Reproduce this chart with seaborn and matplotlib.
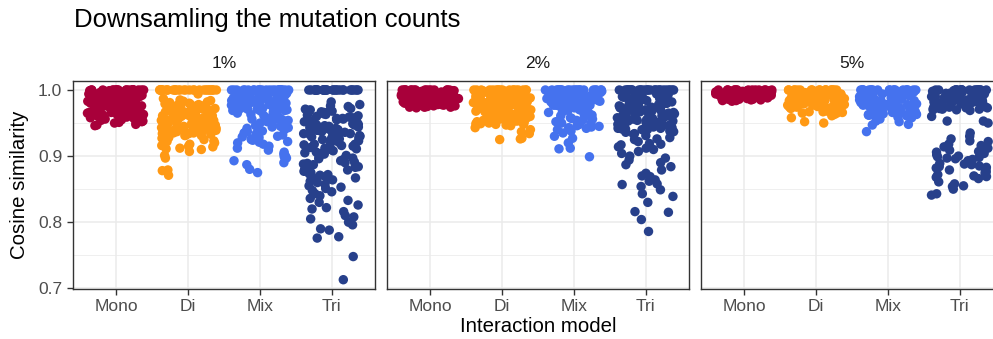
import numpy as np
import pandas as pd
import matplotlib
matplotlib.use("Agg")
import matplotlib.pyplot as plt
import seaborn as sns

# ---------------- data ----------------
models = ["Mono", "Di", "Mix", "Tri"]
facets = ["1%", "2%", "5%"]
colors = ["#A8003A", "#FF9914", "#4572EE", "#27408B"]

mono_1 = [1.000, 1.000, 1.000, 1.000, 1.000, 1.000, 1.000, 1.000, 1.000, 1.000, 1.000, 1.000,
          0.999, 0.998, 0.997, 0.997, 0.996, 0.995, 0.994, 0.994, 0.993, 0.992, 0.991, 0.990,
          0.990, 0.989, 0.988, 0.987, 0.987, 0.986, 0.985, 0.984, 0.983, 0.983, 0.982, 0.981,
          0.980, 0.980, 0.979, 0.978, 0.977, 0.976, 0.976, 0.975, 0.974, 0.973, 0.972, 0.972,
          0.971, 0.970, 0.969, 0.968, 0.968, 0.967, 0.966, 0.965, 0.964, 0.963, 0.962, 0.961,
          0.960, 0.959, 0.958, 0.956, 0.955, 0.954, 0.953, 0.952, 0.951, 0.950, 0.948, 0.946,
          0.998, 0.995, 0.992, 0.989, 0.986, 0.983, 0.979, 0.976, 0.973, 0.970, 0.967, 0.964,
          1.000, 1.000, 1.000, 1.000, 1.000, 1.000, 1.000, 1.000, 0.999, 0.998, 0.997, 0.996,
          0.995, 0.994, 0.993, 0.992, 0.991, 0.990, 0.989, 0.988, 0.987, 0.986, 0.985, 0.984,
          0.983, 0.982, 0.981, 0.980, 0.979, 0.978, 0.977, 0.976, 0.975, 0.974, 0.973, 0.972,
          0.971, 0.970, 0.969, 0.968, 0.967, 0.966, 0.965, 0.964, 0.963, 0.962, 0.961, 0.960,
          0.996, 0.991, 0.986, 0.981, 0.975, 0.969, 0.963, 0.957, 0.951, 0.947]
di_1 = [1.000, 1.000, 1.000, 1.000, 1.000, 1.000, 1.000, 1.000, 1.000, 1.000, 1.000, 1.000,
        1.000, 1.000, 1.000, 1.000, 1.000, 1.000, 1.000, 1.000, 1.000, 1.000, 1.000, 1.000,
        1.000, 1.000, 1.000, 1.000, 1.000, 1.000, 1.000, 1.000,
        0.994, 0.987, 0.985, 0.983, 0.981, 0.980, 0.979, 0.977, 0.976, 0.975, 0.974, 0.972,
        0.971, 0.970, 0.969, 0.968, 0.967, 0.966, 0.965, 0.964, 0.963, 0.962, 0.961, 0.960,
        0.959, 0.958, 0.957, 0.956, 0.955, 0.954, 0.953, 0.952, 0.951, 0.950, 0.949, 0.948,
        0.947, 0.946, 0.945, 0.944, 0.943, 0.942, 0.941, 0.940, 0.939, 0.938, 0.937, 0.936,
        0.935, 0.934, 0.933, 0.932, 0.931, 0.930, 0.978, 0.973, 0.968, 0.963, 0.958, 0.954,
        0.949, 0.944, 0.939, 0.934, 0.966, 0.957, 0.947, 0.942,
        0.984, 0.982, 0.979, 0.976, 0.974, 0.971, 0.969, 0.966, 0.964, 0.961, 0.959, 0.956,
        0.954, 0.951, 0.949, 0.946, 0.944, 0.941, 0.939, 0.936, 0.934, 0.931, 0.975, 0.970,
        0.965, 0.960, 0.955, 0.950, 0.945, 0.940, 0.935, 0.972, 0.962, 0.952, 0.943, 0.938,
        0.928, 0.925, 0.922, 0.920, 0.918, 0.916, 0.914, 0.912, 0.910, 0.907, 0.901, 0.897,
        0.879, 0.871, 0.878, 0.927, 0.923, 0.919, 0.915, 0.911]
mix_1 = [1.000, 1.000, 1.000, 1.000, 1.000, 1.000, 1.000, 1.000, 1.000, 1.000, 1.000, 1.000,
         1.000, 1.000, 1.000, 1.000, 1.000, 1.000, 1.000, 1.000, 1.000, 1.000, 1.000, 1.000,
         0.998, 0.997, 0.996, 0.995, 0.994, 0.993, 0.992, 0.991,
         0.990, 0.989, 0.988, 0.987, 0.986, 0.985, 0.984, 0.983, 0.982, 0.981, 0.980, 0.979,
         0.978, 0.977, 0.976, 0.975, 0.974, 0.973, 0.972, 0.971, 0.970, 0.969, 0.968, 0.967,
         0.966, 0.965, 0.993, 0.987, 0.982, 0.977, 0.972, 0.967,
         0.999, 0.997, 0.995, 0.993, 0.991, 0.989, 0.987, 0.985, 0.983, 0.981, 0.979, 0.977,
         0.975, 0.973, 0.971, 0.969, 0.996, 0.990, 0.984, 0.978, 0.974, 0.970,
         0.963, 0.960, 0.958, 0.956, 0.954, 0.952, 0.950, 0.948, 0.946, 0.944, 0.942, 0.940,
         0.938, 0.936, 0.934, 0.932, 0.930, 0.928, 0.926, 0.924, 0.922, 0.920, 0.955, 0.945,
         0.935, 0.925, 0.961, 0.957, 0.951, 0.943, 0.937, 0.929, 0.921,
         0.918, 0.915, 0.912, 0.909, 0.906, 0.903, 0.900, 0.899, 0.897, 0.893,
         0.890, 0.887, 0.880, 0.875]
tri_1 = [1.000, 1.000, 1.000, 1.000, 1.000, 1.000, 1.000, 1.000, 1.000, 1.000, 1.000, 1.000,
         1.000, 1.000, 1.000, 1.000, 1.000, 1.000, 1.000, 1.000, 1.000, 1.000, 1.000, 1.000,
         1.000, 1.000, 1.000, 1.000, 1.000, 1.000,
         0.982, 0.978, 0.975, 0.972, 0.970, 0.968, 0.966, 0.965, 0.963, 0.962, 0.960, 0.959,
         0.957, 0.956, 0.955, 0.953, 0.952, 0.951, 0.950, 0.948, 0.947, 0.946, 0.945, 0.944,
         0.942, 0.941, 0.940, 0.939, 0.938, 0.936, 0.935, 0.934, 0.933, 0.931, 0.930, 0.929,
         0.927, 0.926, 0.925, 0.923, 0.922, 0.920, 0.918, 0.917, 0.915, 0.913, 0.912, 0.910,
         0.976, 0.971, 0.967, 0.964, 0.961, 0.958, 0.955, 0.952, 0.949, 0.946, 0.943, 0.940,
         0.937, 0.934, 0.931, 0.928, 0.925, 0.921, 0.916, 0.911, 0.969, 0.957, 0.948, 0.939,
         0.908, 0.906, 0.905, 0.903, 0.901, 0.899, 0.897, 0.895, 0.893, 0.891, 0.889, 0.887,
         0.885, 0.883, 0.881, 0.879, 0.877, 0.875, 0.873, 0.871, 0.869, 0.867, 0.865, 0.862,
         0.896, 0.888, 0.880, 0.872, 0.864,
         0.860, 0.857, 0.855, 0.853, 0.851, 0.848, 0.846, 0.843, 0.840, 0.836, 0.833, 0.830,
         0.826, 0.822, 0.820, 0.816, 0.810, 0.808, 0.805, 0.800, 0.796, 0.790, 0.788, 0.778,
         0.776, 0.748, 0.713, 0.958, 0.945, 0.932, 0.918, 0.904, 0.890, 0.884, 0.869]

mono_2 = [1.000, 1.000, 1.000, 1.000, 1.000, 1.000, 1.000, 1.000, 1.000, 1.000, 0.999, 0.998,
          0.997, 0.996, 0.995, 0.995, 0.994, 0.993, 0.992, 0.991, 0.990, 0.990, 0.989, 0.988,
          0.987, 0.986, 0.985, 0.985, 0.984, 0.983, 0.982, 0.981, 0.980, 0.980, 0.979, 0.978,
          0.977, 0.976, 0.975, 0.974, 0.973, 0.996, 0.992, 0.988, 0.984, 0.980, 0.976, 0.998,
          0.994, 0.990, 0.986, 0.982, 0.978, 0.975, 0.974, 0.993, 0.987, 0.981,
          1.000, 1.000, 1.000, 1.000, 1.000, 1.000, 0.999, 0.997, 0.995, 0.993, 0.991, 0.989,
          0.987, 0.985, 0.983, 0.981, 0.979, 0.977, 0.975, 0.997, 0.992, 0.987, 0.982, 0.977,
          0.994, 0.988, 0.983, 0.978, 0.974, 0.999, 0.996, 0.989, 0.984, 0.979, 0.976]
di_2 = [1.000, 1.000, 1.000, 1.000, 1.000, 1.000, 1.000, 1.000, 1.000, 1.000, 1.000, 1.000,
        0.999, 0.998, 0.997, 0.996, 0.995, 0.994, 0.993, 0.992, 0.991, 0.990, 0.989, 0.988,
        0.987, 0.986, 0.985, 0.984, 0.983, 0.982, 0.981, 0.980, 0.979, 0.978, 0.977, 0.976,
        0.975, 0.974, 0.973, 0.972, 0.971, 0.970, 0.969, 0.968, 0.967, 0.966, 0.965, 0.964,
        0.963, 0.962, 0.961, 0.960, 0.959, 0.958, 0.957, 0.956, 0.955, 0.954, 0.953, 0.952,
        0.951, 0.950, 0.949, 0.948, 0.947, 0.946, 0.995, 0.989, 0.983, 0.977, 0.971, 0.965,
        0.959, 0.953, 0.948, 0.993, 0.986, 0.979, 0.972, 0.962, 0.956, 0.951,
        1.000, 1.000, 1.000, 1.000, 1.000, 1.000, 0.998, 0.996, 0.994, 0.992, 0.990, 0.988,
        0.986, 0.984, 0.982, 0.980, 0.978, 0.976, 0.974, 0.972, 0.970, 0.968, 0.966, 0.964,
        0.962, 0.960, 0.958, 0.956, 0.954, 0.952, 0.950, 0.948, 0.991, 0.981, 0.971, 0.961,
        0.955, 0.949, 0.997, 0.987, 0.977, 0.967, 0.957,
        0.943, 0.940, 0.937, 0.934, 0.926, 0.925, 0.927]
mix_2 = [1.000, 1.000, 1.000, 1.000, 1.000, 1.000, 1.000, 1.000, 1.000, 1.000, 1.000, 1.000,
         1.000, 1.000, 0.999, 0.998, 0.997, 0.996, 0.995, 0.994, 0.993, 0.992, 0.991, 0.990,
         0.989, 0.988, 0.987, 0.986, 0.985, 0.984, 0.983, 0.982, 0.981, 0.980, 0.979, 0.978,
         0.977, 0.976, 0.975, 0.996, 0.991, 0.986, 0.981, 0.977,
         1.000, 1.000, 1.000, 1.000, 1.000, 1.000, 1.000, 1.000, 0.999, 0.997, 0.995, 0.993,
         0.991, 0.989, 0.987, 0.985, 0.983, 0.981, 0.979, 0.977, 0.998, 0.994, 0.990, 0.986,
         0.982, 0.978, 0.976, 0.996, 0.992, 0.988, 0.984, 0.980,
         0.972, 0.970, 0.968, 0.966, 0.964, 0.962, 0.960, 0.958, 0.956, 0.954, 0.952, 0.950,
         0.948, 0.946, 0.944, 0.942, 0.940, 0.969, 0.963, 0.957, 0.951, 0.945, 0.938, 0.935,
         0.973, 0.967, 0.961, 0.955, 0.949, 0.943,
         0.930, 0.927, 0.920, 0.912, 0.911, 0.899]
tri_2 = [1.000, 1.000, 1.000, 1.000, 1.000, 1.000, 1.000, 1.000, 1.000, 1.000, 1.000, 1.000,
         1.000, 1.000, 1.000, 1.000, 1.000, 1.000, 1.000, 1.000, 1.000, 1.000, 1.000, 1.000,
         1.000, 1.000, 1.000, 1.000,
         0.994, 0.992, 0.990, 0.988, 0.987, 0.985, 0.984, 0.982, 0.981, 0.980, 0.978, 0.977,
         0.976, 0.974, 0.973, 0.972, 0.970, 0.969, 0.968, 0.966, 0.965, 0.964, 0.962, 0.961,
         0.960, 0.958, 0.957, 0.956, 0.954, 0.953, 0.952, 0.950, 0.949, 0.948, 0.946, 0.945,
         0.944, 0.942, 0.941, 0.940, 0.991, 0.983, 0.975, 0.967, 0.959, 0.951, 0.943, 0.986,
         0.979, 0.971, 0.963, 0.955, 0.947,
         0.995, 0.993, 0.991, 0.989, 0.986, 0.984, 0.982, 0.980, 0.978, 0.976, 0.974, 0.972,
         0.970, 0.968, 0.966, 0.964, 0.962, 0.960, 0.958, 0.956, 0.954, 0.952, 0.950, 0.948,
         0.946, 0.944, 0.942, 0.940, 0.938, 0.936, 0.989, 0.977, 0.965, 0.953, 0.941,
         0.937, 0.934, 0.931, 0.928, 0.925, 0.922, 0.919, 0.917, 0.914, 0.910, 0.907, 0.904,
         0.933, 0.926, 0.918, 0.912,
         0.900, 0.897, 0.894, 0.890, 0.887, 0.884, 0.879, 0.874, 0.870, 0.869, 0.864, 0.862,
         0.858, 0.857, 0.854, 0.849, 0.843, 0.839, 0.830, 0.816, 0.815, 0.804, 0.786]

mono_5 = [1.000, 1.000, 1.000, 1.000, 1.000, 1.000, 1.000, 1.000, 0.999, 0.998, 0.998, 0.997,
          0.996, 0.996, 0.995, 0.994, 0.994, 0.993, 0.992, 0.992, 0.991, 0.990, 0.990, 0.989,
          0.988, 0.988, 0.987, 0.986, 0.986, 0.985, 0.984, 0.997, 0.995, 0.993, 0.991, 0.989,
          0.987, 0.985, 0.999, 0.996, 0.993, 0.990, 0.987, 0.984, 0.983,
          1.000, 1.000, 1.000, 1.000, 1.000, 1.000, 0.999, 0.998, 0.997, 0.996, 0.995, 0.994,
          0.993, 0.992, 0.991, 0.990, 0.989, 0.988, 0.987, 0.986, 0.985, 0.998, 0.995, 0.992,
          0.989, 0.986]
di_5 = [1.000, 1.000, 1.000, 1.000, 1.000, 1.000, 1.000, 1.000, 1.000, 1.000, 0.999, 0.998,
        0.997, 0.996, 0.995, 0.994, 0.993, 0.992, 0.991, 0.990, 0.989, 0.988, 0.987, 0.986,
        0.985, 0.984, 0.983, 0.982, 0.981, 0.980, 0.979, 0.978, 0.977, 0.976, 0.975, 0.974,
        0.973, 0.972, 0.971, 0.970, 0.969, 0.968, 0.967, 0.966, 0.997, 0.992, 0.987, 0.982,
        0.977, 0.972, 0.994, 0.989, 0.984, 0.979, 0.974, 0.969, 0.965, 0.963, 0.961, 0.965,
        1.000, 1.000, 1.000, 1.000, 1.000, 1.000, 1.000, 1.000, 0.998, 0.996, 0.994, 0.992,
        0.990, 0.988, 0.986, 0.984, 0.982, 0.980, 0.978, 0.976, 0.974, 0.972, 0.970, 0.968,
        0.999, 0.995, 0.991, 0.987, 0.983, 0.979, 0.975, 0.971, 0.967, 0.993, 0.985, 0.977,
        0.958, 0.952, 0.950]
mix_5 = [1.000, 1.000, 1.000, 1.000, 1.000, 1.000, 1.000, 1.000, 1.000, 1.000, 1.000, 1.000,
         0.999, 0.998, 0.997, 0.996, 0.995, 0.994, 0.993, 0.992, 0.991, 0.990, 0.989, 0.988,
         0.987, 0.986, 0.985, 0.984, 0.983, 0.982, 0.981, 0.980, 0.979, 0.978, 0.977, 0.976,
         0.975, 0.974, 0.973, 0.972, 0.971, 0.970, 0.969, 0.968, 0.967, 0.966, 0.965, 0.964,
         0.963, 0.962, 0.961, 0.960, 0.996, 0.990, 0.984, 0.978, 0.972, 0.966, 0.993, 0.987,
         1.000, 1.000, 1.000, 1.000, 1.000, 1.000, 1.000, 1.000, 0.998, 0.996, 0.994, 0.992,
         0.990, 0.988, 0.986, 0.984, 0.982, 0.980, 0.978, 0.976, 0.974, 0.972, 0.970, 0.968,
         0.966, 0.964, 0.962, 0.997, 0.991, 0.985, 0.979, 0.973, 0.967, 0.961, 0.959,
         0.981, 0.975, 0.969, 0.963, 0.958, 0.956, 0.953, 0.952, 0.948, 0.947, 0.937]
tri_5 = [1.000, 1.000, 1.000, 1.000, 1.000, 1.000, 1.000, 1.000, 1.000, 1.000, 1.000, 1.000,
         0.999, 0.998, 0.997, 0.996, 0.995, 0.994, 0.993, 0.992, 0.991, 0.990, 0.989, 0.988,
         0.987, 0.986, 0.985, 0.984, 0.983, 0.982, 0.981, 0.980, 0.979, 0.978, 0.977, 0.976,
         0.975, 0.974, 0.973, 0.972, 0.971, 0.970, 0.996, 0.990, 0.984, 0.978, 0.973, 0.993,
         0.987, 0.981, 0.975, 0.970, 0.969,
         1.000, 1.000, 1.000, 1.000, 1.000, 1.000, 1.000, 1.000, 0.998, 0.996, 0.994, 0.992,
         0.990, 0.988, 0.986, 0.984, 0.982, 0.980, 0.978, 0.976, 0.974, 0.972, 0.997, 0.991,
         0.985, 0.979, 0.973, 0.995, 0.989, 0.983, 0.977, 0.971,
         0.960, 0.953, 0.953, 0.950, 0.935, 0.930, 0.923, 0.922, 0.914, 0.912, 0.909, 0.906,
         0.904, 0.902, 0.900, 0.898, 0.897, 0.895, 0.893, 0.891, 0.889, 0.887, 0.885, 0.884,
         0.883, 0.881, 0.879, 0.877, 0.875, 0.872, 0.870, 0.869, 0.866, 0.861, 0.858, 0.855,
         0.854, 0.850, 0.843, 0.841, 0.918, 0.896, 0.888, 0.876, 0.868,
         0.926, 0.916, 0.907, 0.899, 0.892, 0.882, 0.873]

values = {
    "1%": [mono_1, di_1, mix_1, tri_1],
    "2%": [mono_2, di_2, mix_2, tri_2],
    "5%": [mono_5, di_5, mix_5, tri_5],
}

rows = []
for f in facets:
    for m, vals in zip(models, values[f]):
        for v in vals:
            rows.append((f, m, v))
df = pd.DataFrame(rows, columns=["facet", "model", "similarity"])

# ---------------- styling ----------------
sns.set_theme(style="ticks")
plt.rcParams["font.family"] = ["Liberation Sans", "DejaVu Sans"]
plt.rcParams.update({
    "xtick.bottom": True, "ytick.left": True,
    "xtick.major.size": 4.5, "ytick.major.size": 4.5,
    "xtick.major.width": 1.0, "ytick.major.width": 1.0,
    "xtick.color": "#333333", "ytick.color": "#333333",
    "xtick.direction": "out", "ytick.direction": "out",
})

W, H = 993, 339
fig = plt.figure(figsize=(W / 100, H / 100), dpi=100)

panel_left = [73, 387, 701]
panel_w = 302
panel_top, panel_bot = 81, 288.5

np.random.seed(7)
axes = []
for i, f in enumerate(facets):
    ax = fig.add_axes([panel_left[i] / W, 1 - panel_bot / H,
                       panel_w / W, (panel_bot - panel_top) / H])
    sub = df[df["facet"] == f]
    sns.stripplot(data=sub, x="model", y="similarity", hue="model",
                  order=models, hue_order=models, palette=colors,
                  jitter=0.4, size=6.8, linewidth=0, alpha=1,
                  legend=False, ax=ax, zorder=3)
    ax.set_xlim(-0.6, 3.6)
    ax.set_ylim(0.6997, 1.0136)
    ax.set_yticks([0.7, 0.8, 0.9, 1.0])
    ax.set_yticks([0.75, 0.85, 0.95], minor=True)
    ax.set_yticklabels(["0.7", "0.8", "0.9", "1.0"])
    ax.grid(True, which="major", color="#EBEBEB", linewidth=1.1, zorder=0)
    ax.grid(True, which="minor", axis="y", color="#EBEBEB", linewidth=0.55, zorder=0)
    ax.set_axisbelow(True)
    for s in ax.spines.values():
        s.set_visible(True)
        s.set_color("#333333")
        s.set_linewidth(1.0)
    ax.xaxis.set_ticks_position("bottom")
    ax.yaxis.set_ticks_position("left")
    ax.tick_params(axis="both", which="major", direction="out", length=4.5,
                   width=1.0, color="#333333", labelcolor="#4D4D4D",
                   labelsize=12.5, pad=3.2, bottom=True, left=True)
    ax.tick_params(axis="y", which="minor", length=0, left=False)
    ax.set_xlabel("")
    ax.set_ylabel("")
    if i > 0:
        ax.tick_params(axis="y", which="major", left=False, labelleft=False)
    ax.set_title(f, fontsize=12.5, color="#1A1A1A", pad=9)
    axes.append(ax)

fig.text(74 / W, 1 - 20 / H, "Downsamling the mutation counts", fontsize=18.5,
         color="black", ha="left", va="center")
fig.text(20 / W, 1 - ((panel_top + panel_bot) / 2) / H, "Cosine similarity",
         fontsize=14.7, rotation=90, ha="center", va="center", color="black")
fig.text(((73 + 701 + panel_w) / 2) / W, 1 - 327 / H, "Interaction model",
         fontsize=14.7, ha="center", va="center", color="black")

fig.savefig("out.png", dpi=100)
